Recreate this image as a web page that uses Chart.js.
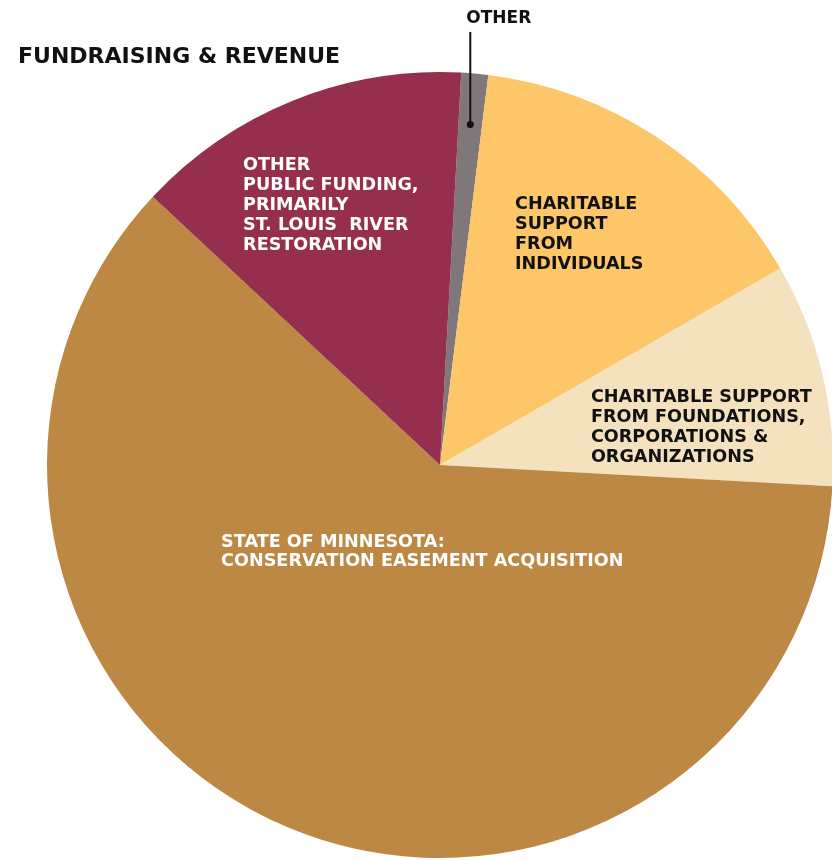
<!DOCTYPE html>
<html>
<head>
<meta charset="utf-8">
<script src="https://cdn.jsdelivr.net/npm/chart.js@4.4.1/dist/chart.umd.min.js"></script>
<style>
  html, body { margin: 0; padding: 0; background: #fff; overflow: hidden; }
  canvas { display: block; }
</style>
</head>
<body>
<canvas id="revenueChart" width="840" height="860"></canvas>
<script>
// Fundraising & revenue shares (percent)
const categories = [
    ['OTHER'],
    ['CHARITABLE', 'SUPPORT', 'FROM', 'INDIVIDUALS'],
    ['CHARITABLE SUPPORT', 'FROM FOUNDATIONS,', 'CORPORATIONS &', 'ORGANIZATIONS'],
    ['STATE OF MINNESOTA:', 'CONSERVATION EASEMENT ACQUISITION'],
    ['OTHER', 'PUBLIC FUNDING,', 'PRIMARILY', 'ST. LOUIS  RIVER', 'RESTORATION']
];
const shares = [1.1, 14.7, 9.2, 61.1, 13.9];
const sliceColors = ['#7f7779', '#fdc668', '#f4e1bd', '#bc8844', '#962e4d'];
const chartTitle = 'FUNDRAISING & REVENUE';

const FONT = '"DejaVu Sans", sans-serif';

// label placement as fractions of the radius from the pie centre
const labelSpots = [
    null,
    { dx: 0.191, dy: -0.667, color: '#111', step: 20 },
    { dx: 0.384, dy: -0.178, color: '#111', step: 20 },
    { dx: -0.557, dy: 0.193, color: '#fff', step: 19 },
    { dx: -0.501, dy: -0.766, color: '#fff', step: 20 }
];

const sliceLabels = {
    id: 'sliceLabels',
    afterDraw(chart) {
        const ctx = chart.ctx;
        const arc = chart.getDatasetMeta(0).data[0];
        const cx = arc.x, cy = arc.y, r = arc.outerRadius;
        ctx.save();
        ctx.textAlign = 'left';
        ctx.textBaseline = 'alphabetic';

        // title
        ctx.font = 'bold 22px ' + FONT;
        ctx.fillStyle = '#111';
        ctx.fillText(chartTitle, 18, 63);

        // labels inside slices
        ctx.font = 'bold 17.6px ' + FONT;
        labelSpots.forEach((spot, i) => {
            if (!spot) return;
            ctx.fillStyle = spot.color;
            const x = cx + spot.dx * r;
            const y0 = cy + spot.dy * r;
            categories[i].forEach((line, j) => {
                ctx.fillText(line, x, y0 + j * spot.step + 6.5);
            });
        });

        // leader for the thin "other" slice
        const mid = (arc.startAngle + arc.endAngle) / 2;
        const px = cx + Math.cos(mid) * r * 0.87;
        const py = cy + Math.sin(mid) * r * 0.87;
        const topY = cy - r * 1.102;
        ctx.strokeStyle = '#111';
        ctx.lineWidth = 2;
        ctx.beginPath();
        ctx.moveTo(px, py);
        ctx.lineTo(px, topY);
        ctx.stroke();
        ctx.fillStyle = '#111';
        ctx.beginPath();
        ctx.arc(px, py, 3.5, 0, Math.PI * 2);
        ctx.fill();
        ctx.font = 'bold 17px ' + FONT;
        ctx.fillText(categories[0][0], px - 4, cy - r * 1.14 + 6);
        ctx.restore();
    }
};

new Chart(document.getElementById('revenueChart').getContext('2d'), {
    type: 'pie',
    data: {
        labels: categories.map(c => c.join(' ')),
        datasets: [{
            data: shares,
            backgroundColor: sliceColors,
            borderWidth: 0,
            hoverOffset: 0
        }]
    },
    options: {
        responsive: false,
        animation: false,
        rotation: 3.1,
        layout: { padding: { left: 47, top: 72, right: 7, bottom: 2 } },
        plugins: {
            legend: { display: false },
            tooltip: { enabled: false }
        }
    },
    plugins: [sliceLabels]
});
</script>
</body>
</html>
